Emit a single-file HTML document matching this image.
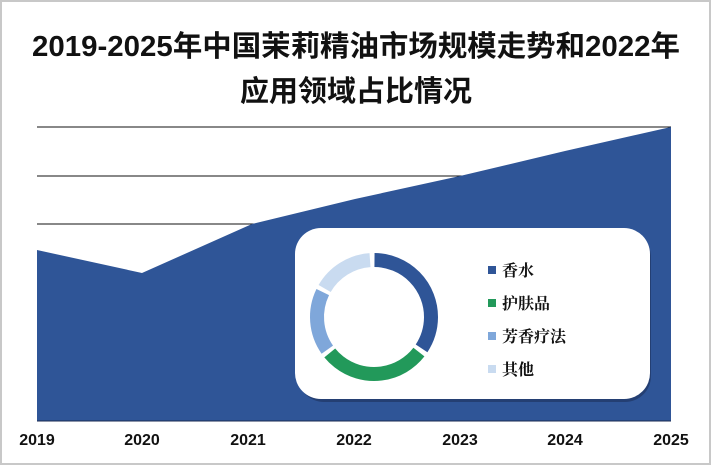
<!DOCTYPE html>
<html><head><meta charset="utf-8"><style>
body{margin:0;background:#fff}
svg{display:block}
</style></head><body>
<svg width="714" height="468" xmlns="http://www.w3.org/2000/svg">
<rect x="1" y="1" width="709" height="463" fill="#fff" stroke="#c8c8c8" stroke-width="2"/>
<text x="356" y="56" text-anchor="middle" font-family="Liberation Sans, Noto Sans CJK SC, sans-serif" font-weight="bold" font-size="29" fill="#111" textLength="648" lengthAdjust="spacingAndGlyphs">2019-2025年中国茉莉精油市场规模走势和2022年</text>
<text x="356" y="101" text-anchor="middle" font-family="Liberation Sans, Noto Sans CJK SC, sans-serif" font-weight="bold" font-size="29" fill="#111">应用领域占比情况</text>
<g stroke="#111" stroke-width="1">
<line x1="37" y1="127" x2="671" y2="127"/>
<line x1="37" y1="176" x2="671" y2="176"/>
<line x1="37" y1="224" x2="671" y2="224"/>
</g>
<polygon points="37,250 142,273 252,224 355,199 460,176 565,151 671,127 671,421 37,421" fill="#2F5597"/>
<line x1="37" y1="421" x2="671" y2="421" stroke="#1a2a50" stroke-width="1"/>
<g font-family="Liberation Sans, sans-serif" font-weight="bold" font-size="16" fill="#111" text-anchor="middle">
<text x="37" y="445">2019</text><text x="142" y="445">2020</text><text x="248" y="445">2021</text>
<text x="354" y="445">2022</text><text x="460" y="445">2023</text><text x="565" y="445">2024</text><text x="671" y="445">2025</text>
</g>
<rect x="298" y="231" width="353" height="171" rx="26" fill="#1a2a50" opacity="0.5"/>
<rect x="295" y="228" width="355" height="171" rx="26" fill="#fff"/>
<g fill="none" stroke-width="14">
<circle cx="374" cy="317" r="57" stroke="#2F5597" stroke-dasharray="123 400" transform="rotate(-89.5 374 317)" pathLength="360"/>
<circle cx="374" cy="317" r="57" stroke="#22995A" stroke-dasharray="103 400" transform="rotate(38 374 317)" pathLength="360"/>
<circle cx="374" cy="317" r="57" stroke="#7FA7DA" stroke-dasharray="61 400" transform="rotate(145 374 317)" pathLength="360"/>
<circle cx="374" cy="317" r="57" stroke="#C9DBF0" stroke-dasharray="56 400" transform="rotate(210 374 317)" pathLength="360"/>
</g>
<g font-family="Liberation Serif, Noto Serif CJK SC, serif" font-size="16" font-weight="bold" fill="#111">
<rect x="488" y="266" width="8" height="8" fill="#2F5597"/><text x="502" y="276">香水</text>
<rect x="488" y="299" width="8" height="8" fill="#22995A"/><text x="502" y="309">护肤品</text>
<rect x="488" y="332" width="8" height="8" fill="#7FA7DA"/><text x="502" y="342">芳香疗法</text>
<rect x="488" y="365" width="8" height="8" fill="#C9DBF0"/><text x="502" y="375">其他</text>
</g>
</svg>
</body></html>
